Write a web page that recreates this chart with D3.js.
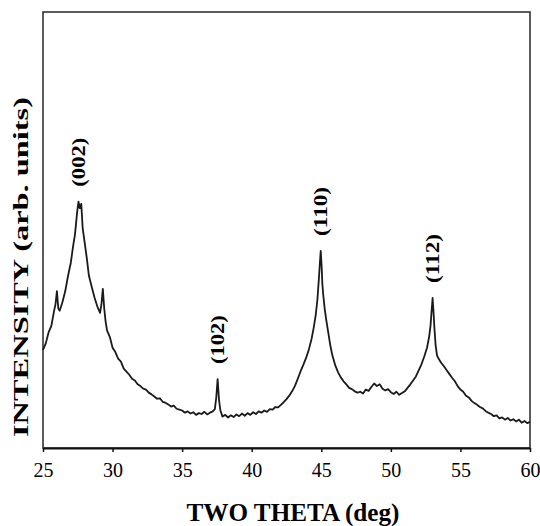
<!DOCTYPE html>
<html lang="en">

<head>
  <title>XRD pattern</title>
  <meta charset="UTF-8">
  <script src="https://cdn.jsdelivr.net/npm/d3@7/dist/d3.min.js"></script>
  <style>
    body { margin: 0; background: #fff; }
  </style>
</head>

<body>
  <div id="box"></div>
  <script>
    // data (two theta in deg, intensity in arb. units 0..100)
    const twoTheta = [
      25.0, 25.2, 25.4, 25.6, 25.8, 25.9, 26.0, 26.1, 26.2, 26.4,
      26.6, 26.8, 27.0, 27.15, 27.3, 27.45, 27.55, 27.65, 27.75, 27.85,
      28.0, 28.15, 28.3, 28.5, 28.7, 28.9, 29.1, 29.2, 29.3, 29.4,
      29.5, 29.6, 29.8, 30.0, 30.2, 30.4, 30.6, 30.8, 31.0, 31.2,
      31.4, 31.6, 31.8, 32.0, 32.2, 32.4, 32.6, 32.8, 33.0, 33.2,
      33.4, 33.6, 33.8, 34.0, 34.2, 34.4, 34.6, 34.8, 35.0, 35.2,
      35.4, 35.6, 35.8, 36.0, 36.2, 36.4, 36.6, 36.8, 37.0, 37.2,
      37.35, 37.45, 37.55, 37.65, 37.75, 37.9, 38.1, 38.3, 38.5, 38.7,
      38.9, 39.1, 39.3, 39.5, 39.7, 39.9, 40.1, 40.3, 40.5, 40.7,
      40.9, 41.1, 41.3, 41.5, 41.7, 41.9, 42.1, 42.3, 42.5, 42.7,
      42.9, 43.1, 43.3, 43.5, 43.7, 43.9, 44.1, 44.3, 44.45, 44.6,
      44.72, 44.82, 44.9, 44.96, 45.02, 45.08, 45.15, 45.25, 45.35, 45.5,
      45.65, 45.8, 46.0, 46.2, 46.4, 46.6, 46.8, 47.0, 47.2, 47.4,
      47.6, 47.8, 48.0, 48.2, 48.4, 48.6, 48.8, 49.0, 49.2, 49.4,
      49.6, 49.8, 50.0, 50.2, 50.4, 50.6, 50.8, 51.0, 51.2, 51.4,
      51.6, 51.8, 52.0, 52.2, 52.4, 52.6, 52.75, 52.85, 52.93, 53.0,
      53.07, 53.14, 53.22, 53.32, 53.45, 53.6, 53.8, 54.0, 54.2, 54.4,
      54.6, 54.8, 55.0, 55.2, 55.4, 55.6, 55.8, 56.0, 56.2, 56.4,
      56.6, 56.8, 57.0, 57.2, 57.4, 57.6, 57.8, 58.0, 58.2, 58.4,
      58.6, 58.8, 59.0, 59.2, 59.4, 59.6, 59.8, 60.0
    ]
    const intensity = [
      22.5, 24.0, 26.5, 28.0, 31.5, 33.0, 36.0, 32.0, 31.5, 33.5,
      36.0, 39.5, 42.5, 46.0, 49.0, 54.0, 56.5, 55.0, 56.0, 50.5,
      47.0, 43.5, 39.5, 37.0, 34.5, 32.5, 31.0, 33.0, 36.5, 32.0,
      29.0, 27.0, 25.5, 23.0, 22.0, 20.5, 19.8, 18.2, 17.5, 16.8,
      15.9, 15.5, 14.6, 14.2, 13.6, 13.4, 12.7, 12.3, 11.8, 11.3,
      11.4, 10.6, 10.4, 10.0, 9.5, 9.7, 9.0, 8.8, 8.6, 8.1,
      8.4, 7.9, 8.2, 7.6, 8.0, 7.8, 8.3, 7.7, 8.1, 8.4,
      8.9, 11.5, 15.8, 11.0, 8.6, 7.2, 7.6, 7.0, 7.5, 7.1,
      7.7, 7.3, 7.9, 7.4, 8.0, 7.6, 8.2, 7.8, 8.4, 8.1,
      8.6, 8.3, 8.9, 8.8, 9.4, 9.3, 9.9, 10.5, 11.2, 12.0,
      13.0, 14.2, 15.8, 17.5, 19.0, 20.6, 22.5, 25.0, 27.5, 30.5,
      34.0, 38.5, 42.5, 45.2, 42.0, 37.5, 34.8, 31.8, 29.5, 26.5,
      23.5, 21.2, 19.0, 17.4, 16.2, 15.3, 14.6, 13.8, 13.5, 13.0,
      12.7, 12.9, 12.5, 13.4, 13.1, 14.0, 14.8, 14.2, 14.6, 13.6,
      13.2, 13.5, 12.8, 12.4, 12.9, 12.2, 12.6, 13.0, 13.8, 14.6,
      15.5, 16.4, 17.8, 19.2, 21.0, 23.0, 25.5, 28.0, 31.5, 34.4,
      31.0, 27.0, 23.5, 21.2, 20.4, 19.6, 18.8, 17.9, 17.0, 16.1,
      15.3, 14.2, 13.4, 12.9, 12.0, 11.6, 10.8, 10.3, 9.9, 9.4,
      9.1, 8.5, 8.1, 7.8, 7.3, 7.5, 6.8, 7.0, 6.5, 6.9,
      6.3, 6.6, 6.1, 6.5, 5.8, 6.2, 5.7, 6.0
    ]
    // peak labels
    const peakLabels = ['(002)', '(102)', '(110)', '(112)']
    const peakTheta = [27.6, 37.55, 44.96, 53.0]
    const peakIntensity = [56.5, 15.8, 45.2, 34.4]
    const xTicks = [25, 30, 35, 40, 45, 50, 55, 60]

    const width = 540
    const height = 526
    const margin = { left: 43, right: 10, top: 12, bottom: 78 }
    const serif = '"Liberation Serif", "Times New Roman", serif'

    const svg = d3.select('#box').append('svg')
      .attr('width', width)
      .attr('height', height)

    const xScale = d3.scaleLinear().domain([25, 60]).range([margin.left, width - margin.right])
    const yScale = d3.scaleLinear().domain([0, 100]).range([height - margin.bottom, margin.top])

    // frame
    svg.append('rect')
      .attr('x', margin.left)
      .attr('y', margin.top)
      .attr('width', width - margin.left - margin.right)
      .attr('height', height - margin.top - margin.bottom)
      .attr('fill', 'none')
      .attr('stroke', '#333')
      .attr('stroke-width', 1.6)

    // x axis
    const xAxis = d3.axisBottom(xScale).tickValues(xTicks).tickSize(4).tickSizeOuter(0).tickPadding(11)
    const gx = svg.append('g')
      .attr('transform', `translate(0,${height - margin.bottom})`)
      .call(xAxis)
    gx.select('.domain').attr('stroke', '#111').attr('stroke-width', 2.2)
    gx.selectAll('.tick line').attr('stroke', '#111').attr('stroke-width', 1.5)
    gx.selectAll('.tick text')
      .attr('font-family', serif)
      .attr('font-size', 20)
      .attr('fill', '#000')

    // pattern
    const points = twoTheta.map((t, i) => [t, intensity[i]])
    const line = d3.line().x(d => xScale(d[0])).y(d => yScale(d[1]))
    svg.append('path')
      .datum(points)
      .attr('d', line)
      .attr('fill', 'none')
      .attr('stroke', '#1a1a1a')
      .attr('stroke-width', 1.8)
      .attr('stroke-linejoin', 'round')

    // peak labels, vertical
    svg.selectAll('.peak')
      .data(peakLabels)
      .enter().append('text')
      .attr('class', 'peak')
      .attr('transform', (d, i) => `translate(${xScale(peakTheta[i]) + 6},${yScale(peakIntensity[i]) - 15}) rotate(-90)`)
      .attr('font-family', serif)
      .attr('font-weight', 'bold')
      .attr('font-size', 19)
      .attr('textLength', 49)
      .attr('lengthAdjust', 'spacingAndGlyphs')
      .attr('text-anchor', 'start')
      .text(d => d)

    // axis titles
    svg.append('text')
      .attr('x', 293)
      .attr('y', 521)
      .attr('text-anchor', 'middle')
      .attr('font-family', serif)
      .attr('font-weight', 'bold')
      .attr('font-size', 26)
      .attr('textLength', 213)
      .attr('lengthAdjust', 'spacingAndGlyphs')
      .text('TWO THETA (deg)')

    svg.append('text')
      .attr('transform', 'translate(28,267) rotate(-90)')
      .attr('text-anchor', 'middle')
      .attr('font-family', serif)
      .attr('font-weight', 'bold')
      .attr('font-size', 22)
      .attr('textLength', 340)
      .attr('lengthAdjust', 'spacingAndGlyphs')
      .text('INTENSITY (arb. units)')
  </script>
</body>

</html>
